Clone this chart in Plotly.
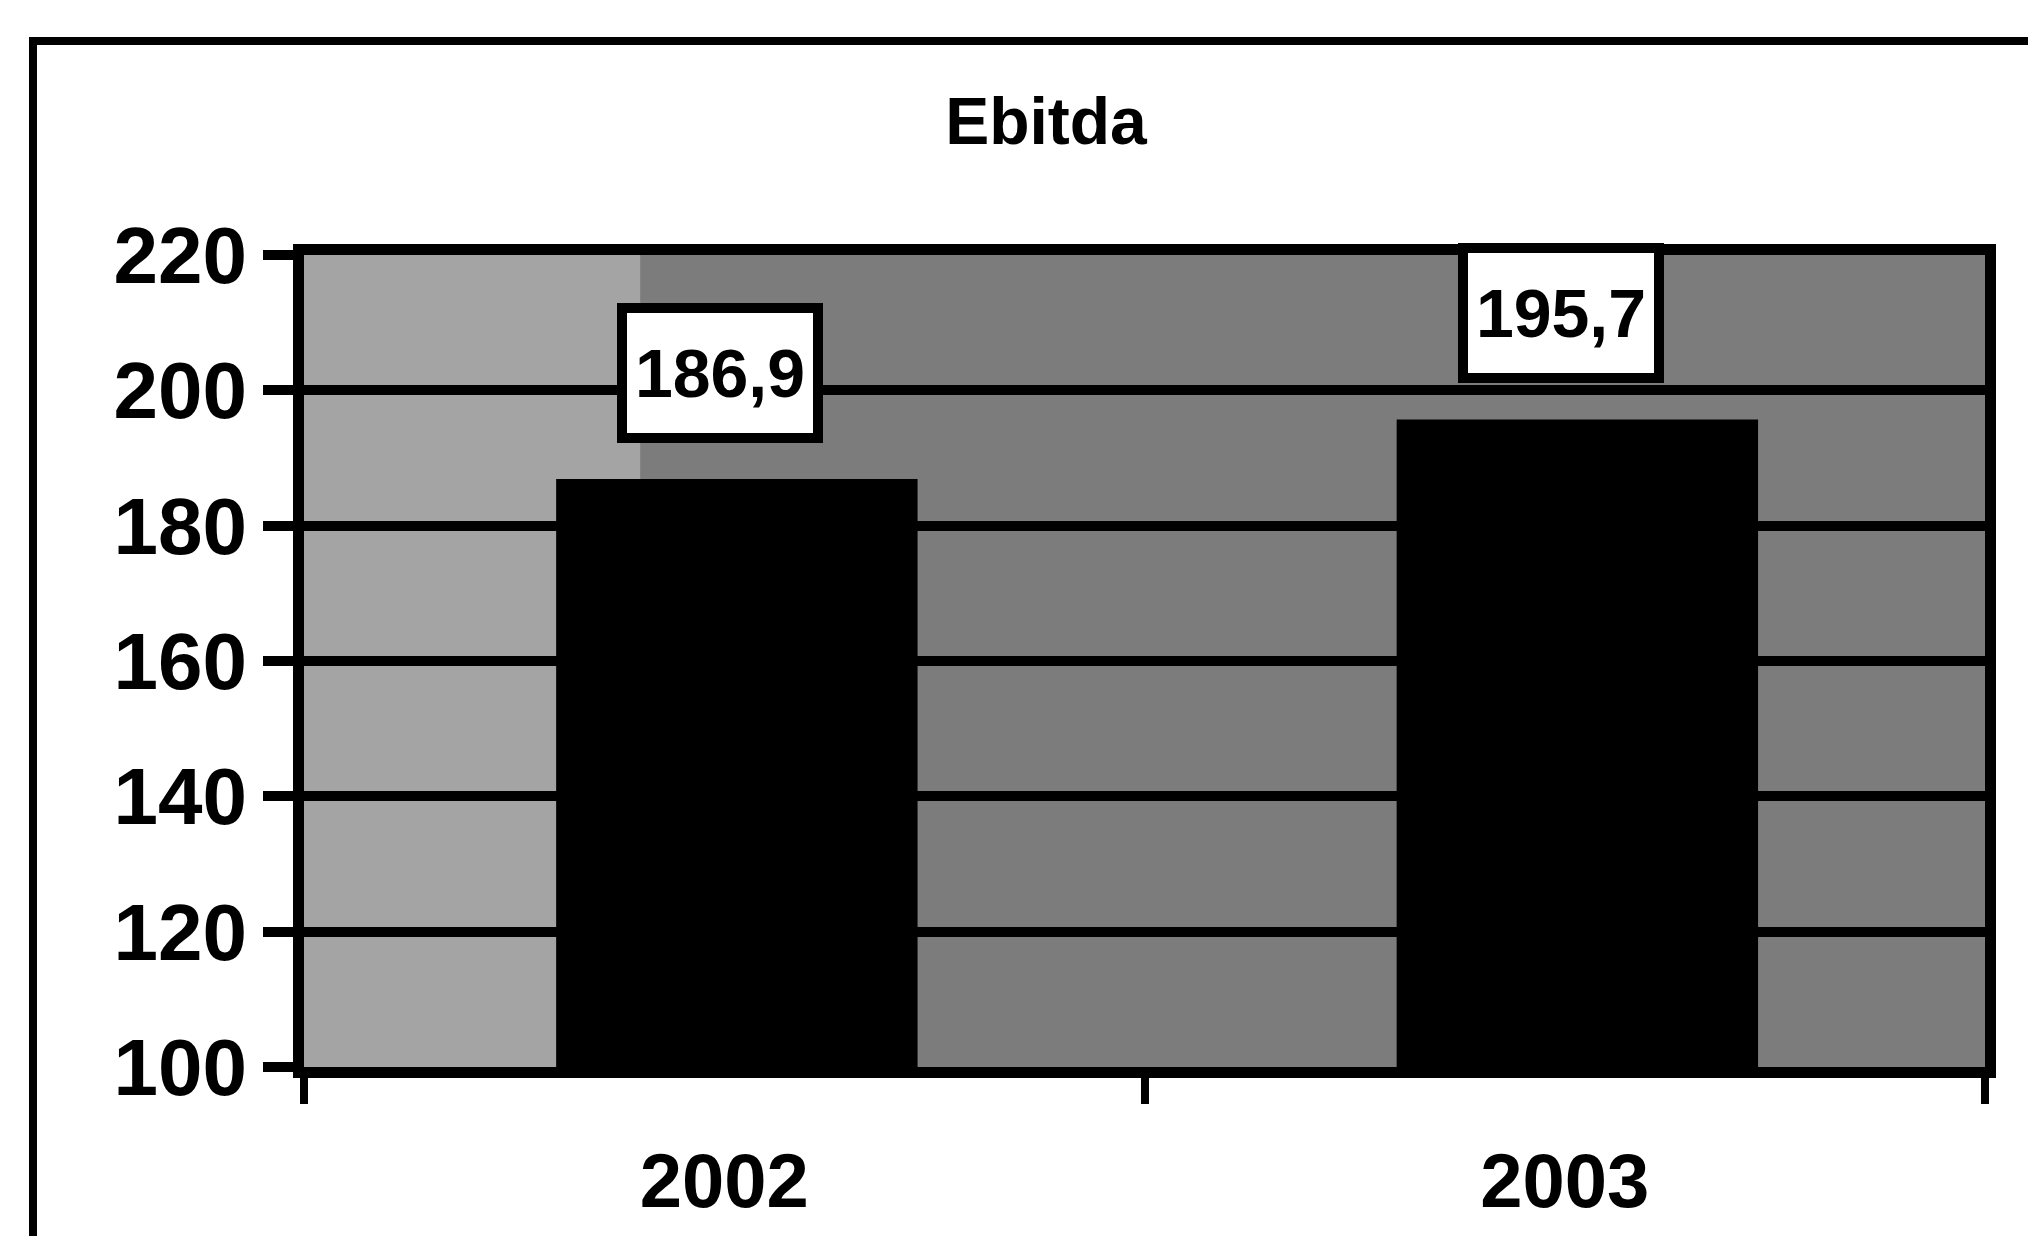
import plotly.graph_objects as go

# EBITDA by year
years = ["2002", "2003"]
ebitda = [186.9, 195.7]
value_labels = [f"{v:.1f}".replace(".", ",") for v in ebitda]

y_ticks = [100, 120, 140, 160, 180, 200, 220]
title_text = "Ebitda"

# category slots on a numeric x axis: one slot per year, ticks between slots
x_pos = list(range(len(years)))
slot_edges = [p - 0.5 for p in x_pos] + [x_pos[-1] + 0.5]

W, H = 2028, 1236
L, R, T, B = 304, 43, 255, 169
plot_w = W - L - R
plot_h = H - T - B

font_family = "Liberation Sans"
bar_width = 0.43

fig = go.Figure()

fig.add_trace(go.Bar(
    x=x_pos,
    y=ebitda,
    width=bar_width,
    offset=-bar_width / 2 + 0.015,
    marker=dict(color="black", line=dict(width=0)),
    showlegend=False,
    customdata=years,
    hovertemplate="%{customdata}: %{y}<extra></extra>",
))

# value labels in white boxes above each bar
for xp, v, lab in zip(x_pos, ebitda, value_labels):
    fig.add_annotation(
        x=xp, y=v, text=lab, showarrow=False,
        xanchor="center", yanchor="bottom", yshift=36, xshift=-4,
        bgcolor="white", bordercolor="black", borderwidth=10, borderpad=0,
        width=186, height=120,
        font=dict(family=font_family, size=68, color="black", weight="bold"),
    )

# shaded plot background: lighter strip on the left, darker elsewhere
fig.add_shape(type="rect", xref="x domain", yref="y domain",
              x0=0, x1=0.2, y0=0, y1=1, layer="below",
              fillcolor="#a4a4a4", line=dict(width=0))

# outer chart frame (runs off the right and bottom of the page)
def px_to_paper_x(px):
    return (px - L) / plot_w

def px_to_paper_y(py):
    return (H - B - py) / plot_h

fig.add_shape(type="rect", xref="paper", yref="paper",
              x0=px_to_paper_x(33), x1=px_to_paper_x(W + 40),
              y0=px_to_paper_y(H + 40), y1=px_to_paper_y(41),
              line=dict(color="black", width=8), fillcolor="rgba(0,0,0,0)",
              layer="above")

fig.update_layout(
    width=W, height=H, autosize=False,
    margin=dict(l=L, r=R, t=T, b=B, pad=0, autoexpand=False),
    paper_bgcolor="white",
    plot_bgcolor="#7c7c7c",
    title=dict(
        text=title_text, x=1046 / W, xanchor="center",
        y=1 - 121 / H, yanchor="middle", xref="container", yref="container",
        font=dict(family=font_family, size=66, color="black", weight="bold"),
    ),
    xaxis=dict(
        type="linear",
        range=[slot_edges[0], slot_edges[-1]],
        tickmode="array", tickvals=x_pos, ticktext=years,
        tickangle=0,
        automargin=False,
        showline=True, linecolor="black", linewidth=11, mirror=True,
        showgrid=False, zeroline=False,
        # invisible long major ticks push the year labels down
        ticks="outside", ticklen=38, tickwidth=1, tickcolor="rgba(0,0,0,0)",
        minor=dict(tickmode="array", tickvals=slot_edges, ticks="outside",
                   ticklen=26, tickwidth=8, tickcolor="black", showgrid=False),
        tickfont=dict(family=font_family, size=76, color="black", weight="bold"),
    ),
    yaxis=dict(
        range=[100, 220],
        tickmode="array", tickvals=y_ticks,
        ticktext=[str(t) for t in y_ticks],
        automargin=False,
        showline=True, linecolor="black", linewidth=11, mirror=True,
        showgrid=True, gridcolor="black", gridwidth=10,
        zeroline=False,
        ticks="outside", ticklen=30, tickwidth=10, tickcolor="black",
        tickfont=dict(family=font_family, size=80, color="black", weight="bold"),
    ),
)

fig.write_html("out.html")
